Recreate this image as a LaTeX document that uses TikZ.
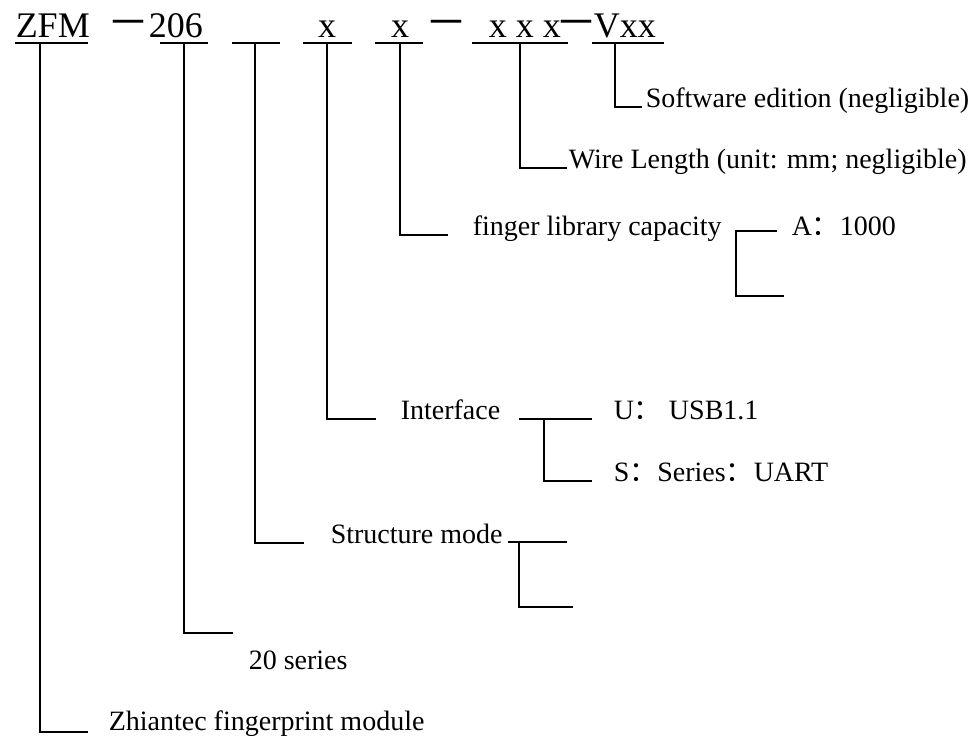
\documentclass[tikz,border=0pt]{standalone}
\usepackage{fontspec}
\setmainfont{Liberation Serif}
\newfontfamily\cjk{Noto Sans CJK SC}
\usetikzlibrary{positioning}

\tikzset{
  code/.style={inner sep=0pt,anchor=base west,font=\fontsize{18}{20}\selectfont},
  codedash/.style={inner sep=0pt,font=\fontsize{21}{22}\selectfont\cjk},
  lbl/.style={inner sep=0pt,anchor=base west,font=\fontsize{14}{16}\selectfont}
}

\begin{document}
\begin{tikzpicture}[x=0.5pt,y=-0.5pt,line width=0.75pt]
   \useasboundingbox (0,0) rectangle (978,735);

   % model code
   \node[code] (zfm) at (15,37) {ZFM};
   \node[codedash] (d1) at (128.5,29) {－};
   \node[code] (ser) at (148,37) {206};
   \node[code,anchor=base] (itf) at (327,37) {x};
   \node[code,anchor=base] (cap) at (400,37) {x};
   \node[codedash] (d2) at (446.5,29) {－};
   \node[code] (len) at (488,37) {x x x};
   \node[codedash] (d3) at (576.5,29) {－};
   \node[code] (ver) at (593,37) {Vxx};

   % underlines, t1..t7 = where the leads start
   \foreach \a/\b/\m [count=\n] in {15/88/40,160/208/184,232/280/255,303/352/327,375/423/400,472/568/520,592/664/615}
   {
     \draw (\a,43) -- (\b,43);
     \coordinate (t\n) at (\m,43);
   }

   % leads
   \coordinate (e7) at (642,107);
   \node[lbl] (soft) at (645,107) {Software edition (negligible)};
   \draw (t7) |- (e7);

   \coordinate (e6) at (567,168);
   \node[lbl] (wire) at (568,168) {Wire Length (unit: mm; negligible)};
   \draw (t6) |- (e6);

   \coordinate (e5) at (448,235);
   \node[lbl] (fing) at (472,235) {finger library capacity};
   \draw (t5) |- (e5);

   \coordinate (e4) at (376,419);
   \node[lbl] (intf) at (400,419) {Interface};
   \draw (t4) |- (e4);

   \coordinate (e3) at (304,543);
   \node[lbl] (struct) at (330,543) {Structure mode};
   \draw (t3) |- (e3);

   \coordinate (e2) at (233,633);
   \node[lbl] (series) at (248,669) {20 series};
   \draw (t2) |- (e2);

   \coordinate (e1) at (88,732);
   \node[lbl] (module) at (108,730) {Zhiantec fingerprint module};
   \draw (t1) |- (e1);

   % option brackets
   \coordinate (ca) at (736,231);
   \coordinate (cb) at (777,231);
   \coordinate (cc) at (784,296);
   \node[lbl] (opta) at (791,235) {A{\cjk ：}1000};
   \draw (cb) -- (ca) |- (cc);

   \coordinate (ia) at (519,419);
   \coordinate (ib) at (592,419);
   \coordinate (ic) at (544,419);
   \coordinate (id) at (592,481);
   \node[lbl] (optu) at (613,419) {U{\cjk ：} USB1.1};
   \node[lbl] (opts) at (613,481) {S{\cjk ：}Series{\cjk ：}UART};
   \draw (ia) -- (ib);
   \draw (ic) |- (id);

   \coordinate (sa) at (508,542);
   \coordinate (sb) at (567,542);
   \coordinate (sc) at (519,542);
   \coordinate (sd) at (573,607);
   \draw (sa) -- (sb);
   \draw (sc) |- (sd);
 \end{tikzpicture}
\end{document}
